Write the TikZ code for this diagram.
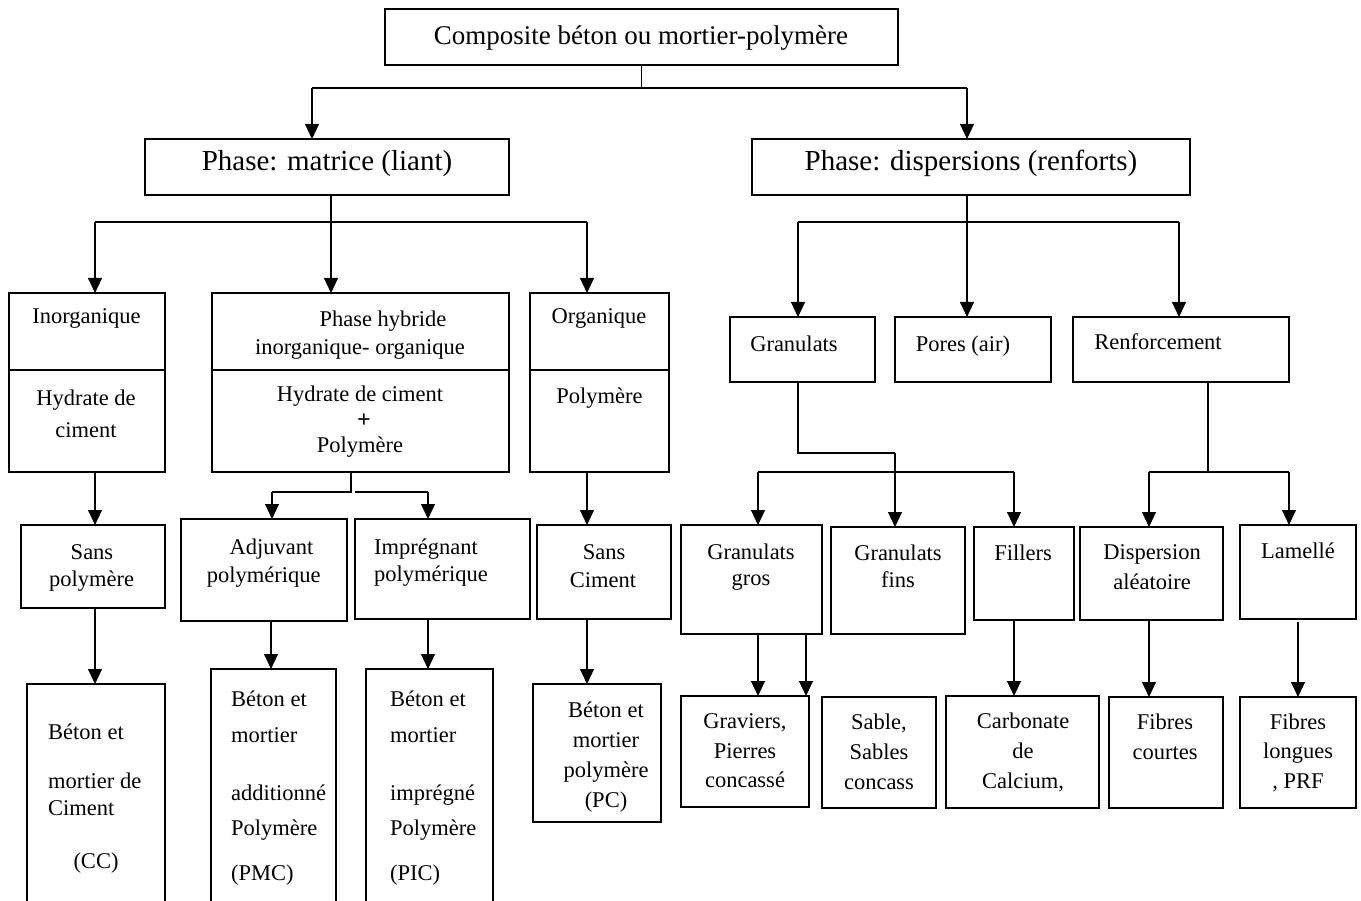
\documentclass[tikz,border=0pt]{standalone}
\usepackage{fontspec}
\setmainfont{Liberation Serif}
\usetikzlibrary{arrows.meta,fit}

\tikzset{
  box/.style={draw, line width=1.4pt, inner sep=0pt, outer sep=0pt},
  link/.style={line width=1.1pt},
  arr/.style={link, -{Triangle[length=15pt,width=14pt]}},
  txt/.style={font=\fontsize{22.5}{27}\selectfont, inner sep=0pt, anchor=base},
  txtl/.style={txt, anchor=base west},
  head/.style={font=\fontsize{29}{34}\selectfont, inner sep=0pt, anchor=base},
}

\begin{document}
\begin{tikzpicture}[x=1pt,y=-1pt]
\useasboundingbox (0,0) rectangle (1361,901);
\clip (0,0) rectangle (1361,901);

% boxes
\node[box, fit={(385,9) (898,65)}] (top) {};
\node[box, fit={(145,139) (509,195)}] (mat) {};
\node[box, fit={(752,139) (1190,195)}] (disp) {};
\node[box, fit={(9,293) (165,472)}] (inorg) {};
\node[box, fit={(212,293) (509,472)}] (hyb) {};
\node[box, fit={(530,293) (669,472)}] (org) {};
\node[box, fit={(730,317) (875,382)}] (gran) {};
\node[box, fit={(895,317) (1051,382)}] (pores) {};
\node[box, fit={(1073,317) (1289,382)}] (renf) {};
\node[box, fit={(21,525) (165,608)}] (sanspol) {};
\node[box, fit={(181,519) (347,621)}] (adj) {};
\node[box, fit={(355,519) (530,619)}] (impr) {};
\node[box, fit={(537,525) (671,619)}] (sansci) {};
\node[box, fit={(681,525) (822,634)}] (grgros) {};
\node[box, fit={(831,527) (965,634)}] (grfins) {};
\node[box, fit={(974,527) (1074,620)}] (fill) {};
\node[box, fit={(1080,527) (1223,620)}] (disal) {};
\node[box, fit={(1240,525) (1356,619)}] (lam) {};
\node[box, fit={(27,684) (165,930)}] (cc) {};
\node[box, fit={(211,669) (336,930)}] (pmc) {};
\node[box, fit={(366,669) (493,930)}] (pic) {};
\node[box, fit={(533,684) (661,822)}] (pc) {};
\node[box, fit={(681,696) (809,807)}] (grav) {};
\node[box, fit={(822,697) (936,808)}] (sable) {};
\node[box, fit={(946,696) (1099,808)}] (carb) {};
\node[box, fit={(1109,697) (1223,808)}] (fcourt) {};
\node[box, fit={(1240,697) (1356,808)}] (flong) {};

% dividers
\foreach \n in {inorg, hyb, org}
  \draw[line width=1.4pt] (\n.west |- 0,370) -- (\n.east |- 0,370);

% level 1
\coordinate (j0l) at (312,88);
\coordinate (j0r) at (967,88);
\draw[link] (top.south) -- (top.south |- j0l);
\draw[link] (j0l) -- (j0r);
\draw[arr] (j0l) -- (j0l |- mat.north);
\draw[arr] (j0r) -- (j0r |- disp.north);

% matrice
\draw[link] (331,0 |- mat.south) -- (331,222);
\draw[link] (95,222) -- (587,222);
\foreach \n/\x in {inorg/95, hyb/331, org/587}
  \draw[arr] (\x,222) -- (\x,0 |- \n.north);

% dispersions
\draw[link] (967,0 |- disp.south) -- (967,222);
\draw[link] (798,222) -- (1179,222);
\foreach \n/\x in {gran/798, pores/967, renf/1179}
  \draw[arr] (\x,222) -- (\x,0 |- \n.north);

% matrice children
\draw[arr] (95,0 |- inorg.south) -- (95,0 |- sanspol.north);
\draw[link] (351,0 |- hyb.south) -- (351,492) -- (272,492);
\draw[arr] (272,492) -- (272,0 |- adj.north);
\draw[link] (355,492) -- (428,492);
\draw[arr] (428,492) -- (428,0 |- impr.north);
\draw[arr] (587,0 |- org.south) -- (587,0 |- sansci.north);

% dispersions children
\draw[link] (798,0 |- gran.south) -- (798,453) -- (895,453);
\draw[arr] (895,453) -- (895,0 |- grfins.north);
\draw[link] (758,472) -- (1014,472);
\draw[arr] (758,472) -- (758,0 |- grgros.north);
\draw[arr] (1014,472) -- (1014,0 |- fill.north);
\draw[link] (1208,0 |- renf.south) -- (1208,472);
\draw[link] (1149,472) -- (1289,472);
\draw[arr] (1149,472) -- (1149,0 |- disal.north);
\draw[arr] (1289,472) -- (1289,0 |- lam.north);

% last level
\draw[arr] (95,0 |- sanspol.south) -- (95,0 |- cc.north);
\draw[arr] (271,0 |- adj.south) -- (271,0 |- pmc.north);
\draw[arr] (428,0 |- impr.south) -- (428,0 |- pic.north);
\draw[arr] (587,0 |- sansci.south) -- (587,0 |- pc.north);
\draw[arr] (758,0 |- grgros.south) -- (758,0 |- grav.north);
\draw[arr] (806,0 |- grgros.south) -- (806,0 |- grav.north);
\draw[arr] (1014,0 |- fill.south) -- (1014,0 |- carb.north);
\draw[arr] (1149,0 |- disal.south) -- (1149,0 |- fcourt.north);
\draw[arr] (1298,622) -- (1298,0 |- flong.north);

% texts
\node[head, font=\fontsize{27}{32}\selectfont] (top-t) at (641,45) {Composite béton ou mortier-polymère};
\node[head] (mat-t) at (327,171) {Phase: matrice (liant)};
\node[head] (disp-t) at (971,171) {Phase: dispersions (renforts)};

\node[txt] (inorg-t1) at (86.5,324) {Inorganique};
\node[txt] (inorg-t2) at (86,406) {Hydrate de};
\node[txt] (inorg-t3) at (86,438) {ciment};
\node[txt] (hyb-t1) at (383,327) {Phase hybride};
\node[txt] (hyb-t2) at (360,355) {inorganique- organique};
\node[txt] (hyb-t3) at (360,402) {Hydrate de ciment};
\node[txt, font=\fontsize{24}{27}\bfseries] (hyb-t4) at (364,428) {+};
\node[txt] (hyb-t5) at (360,453) {Polymère};
\node[txt] (org-t1) at (599,324) {Organique};
\node[txt] (org-t2) at (599.5,403) {Polymère};

\node[txt] (gran-t) at (794,352) {Granulats};
\node[txt] (pores-t) at (963,352) {Pores (air)};
\node[txt] (renf-t) at (1158,350) {Renforcement};

\node[txt] (sanspol-t1) at (92,559) {Sans};
\node[txt] (sanspol-t2) at (91.5,586) {polymère};
\node[txt] (adj-t1) at (271.6,554) {Adjuvant};
\node[txt] (adj-t2) at (263.8,582) {polymérique};
\node[txtl] (impr-t1) at (374,554) {Imprégnant};
\node[txtl] (impr-t2) at (374,581) {polymérique};
\node[txt] (sansci-t1) at (604,559) {Sans};
\node[txt] (sansci-t2) at (603,587) {Ciment};

\foreach \t/\y [count=\i] in {Béton et/739, mortier de/788, Ciment/815}
  \node[txtl] (cc-t\i) at (48,\y) {\t};
\node[txt] (cc-t4) at (96,868) {(CC)};
\foreach \t/\y [count=\i] in {Béton et/706, mortier/742, additionné/800, Polymère/835, (PMC)/880}
  \node[txtl] (pmc-t\i) at (231,\y) {\t};
\foreach \t/\y [count=\i] in {Béton et/706, mortier/742, imprégné/800, Polymère/835, (PIC)/880}
  \node[txtl] (pic-t\i) at (390,\y) {\t};
\foreach \t/\y [count=\i] in {Béton et/717, mortier/747, polymère/777, (PC)/807}
  \node[txt] (pc-t\i) at (606,\y) {\t};

\foreach \t/\y [count=\i] in {Granulats/559, gros/585}
  \node[txt] (grgros-t\i) at (751,\y) {\t};
\foreach \t/\y [count=\i] in {Granulats/560, fins/587}
  \node[txt] (grfins-t\i) at (898,\y) {\t};
\node[txt] (fill-t) at (1023,560) {Fillers};
\foreach \t/\y [count=\i] in {Dispersion/559, aléatoire/589}
  \node[txt] (disal-t\i) at (1152,\y) {\t};
\node[txt] (lam-t) at (1298,558) {Lamellé};

\foreach \t/\y [count=\i] in {{Graviers,}/728, Pierres/758, concassé/787}
  \node[txt] (grav-t\i) at (745,\y) {\t};
\foreach \t/\y [count=\i] in {{Sable,}/729, Sables/759, concass/789}
  \node[txt] (sable-t\i) at (879,\y) {\t};
\foreach \t/\y [count=\i] in {Carbonate/728, de/758, {Calcium,}/788}
  \node[txt] (carb-t\i) at (1023,\y) {\t};
\foreach \t/\y [count=\i] in {Fibres/729, courtes/759}
  \node[txt] (fcourt-t\i) at (1165,\y) {\t};
\foreach \t/\y [count=\i] in {Fibres/729, longues/758, {, PRF}/788}
  \node[txt] (flong-t\i) at (1298,\y) {\t};
\end{tikzpicture}
\end{document}
